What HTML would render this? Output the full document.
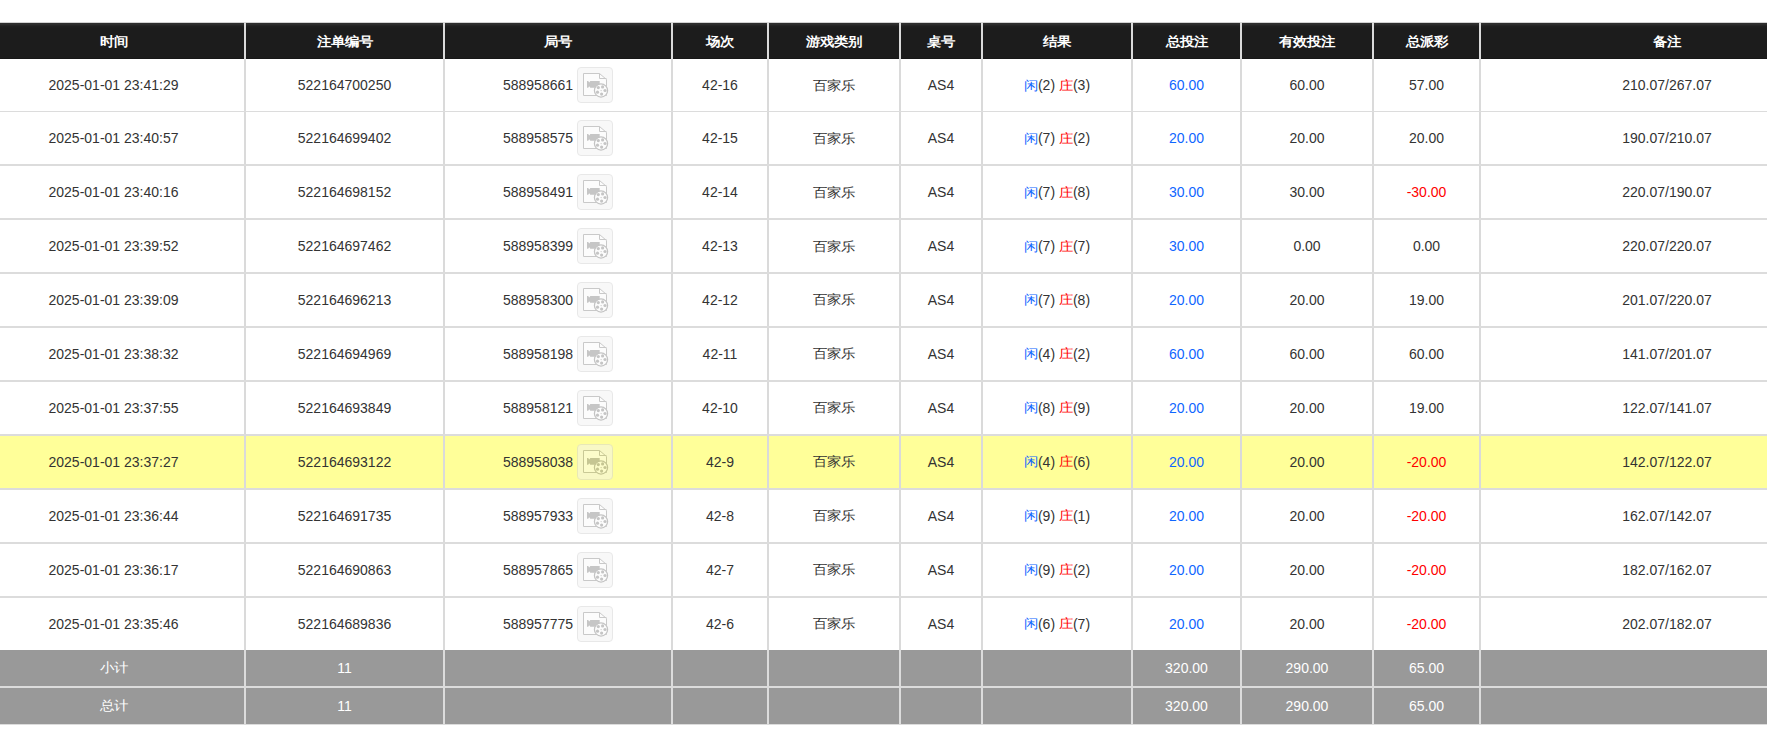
<!DOCTYPE html><html><head><meta charset="utf-8"><title>注单记录</title><style>
html,body{margin:0;padding:0;background:#fff;}
body{width:1767px;height:741px;overflow:hidden;position:relative;font-family:"Liberation Sans",sans-serif;font-size:14px;color:#333;}
.a{position:absolute;}
.c{position:absolute;display:flex;align-items:center;justify-content:center;white-space:nowrap;}
.hd{background:linear-gradient(to bottom,#d2d2d2 0,#d2d2d2 1px,#2d2d2d 1px,#2d2d2d 2px,#2c2c2c 2px,#2c2c2c 3px,#242424 3px,#242424 4px,#1f1f1f 4px,#1f1f1f 5px,#1c1c1c 6px,#1c1c1c 36px,#171717 36px);}
.hv{background:#dadada;}
.th{color:#fff;font-weight:bold;}
.bv{background:#dadada;}
.bh{background:#dcdcdc;}
.yl{background:#ffff99;}
.gr{background:#999;}
.gv{background:#dcdcdc;}
.gt{color:#fff;}
.b{color:#0f66ff;}
.z{display:inline-block;transform:translateY(0.9px) scaleY(0.9);}
.r{color:#ff0000;}
.ic{display:inline-block;width:36px;height:36px;margin-left:4px;box-sizing:border-box;border:1px solid #d3d3d3;border-radius:4px;background:#f3f3f3;position:relative;opacity:0.5;}
.ic svg{position:absolute;left:-1px;top:-1px;}

</style></head><body>
<div class="a hd" style="left:0;top:22px;width:1767px;height:37px"></div>
<div class="a yl" style="left:0;top:436px;width:1767px;height:52px"></div>
<div class="a gr" style="left:-17px;top:650px;width:261px;height:36px"></div>
<div class="a gr" style="left:246px;top:650px;width:197px;height:36px"></div>
<div class="a gr" style="left:445px;top:650px;width:226px;height:36px"></div>
<div class="a gr" style="left:673px;top:650px;width:94px;height:36px"></div>
<div class="a gr" style="left:769px;top:650px;width:130px;height:36px"></div>
<div class="a gr" style="left:901px;top:650px;width:80px;height:36px"></div>
<div class="a gr" style="left:983px;top:650px;width:148px;height:36px"></div>
<div class="a gr" style="left:1133px;top:650px;width:107px;height:36px"></div>
<div class="a gr" style="left:1242px;top:650px;width:130px;height:36px"></div>
<div class="a gr" style="left:1374px;top:650px;width:105px;height:36px"></div>
<div class="a gr" style="left:1481px;top:650px;width:372px;height:36px"></div>
<div class="a gv" style="left:244px;top:650px;width:2px;height:36px"></div>
<div class="a gv" style="left:443px;top:650px;width:2px;height:36px"></div>
<div class="a gv" style="left:671px;top:650px;width:2px;height:36px"></div>
<div class="a gv" style="left:767px;top:650px;width:2px;height:36px"></div>
<div class="a gv" style="left:899px;top:650px;width:2px;height:36px"></div>
<div class="a gv" style="left:981px;top:650px;width:2px;height:36px"></div>
<div class="a gv" style="left:1131px;top:650px;width:2px;height:36px"></div>
<div class="a gv" style="left:1240px;top:650px;width:2px;height:36px"></div>
<div class="a gv" style="left:1372px;top:650px;width:2px;height:36px"></div>
<div class="a gv" style="left:1479px;top:650px;width:2px;height:36px"></div>
<div class="a gr" style="left:-17px;top:688px;width:261px;height:36px"></div>
<div class="a gr" style="left:246px;top:688px;width:197px;height:36px"></div>
<div class="a gr" style="left:445px;top:688px;width:226px;height:36px"></div>
<div class="a gr" style="left:673px;top:688px;width:94px;height:36px"></div>
<div class="a gr" style="left:769px;top:688px;width:130px;height:36px"></div>
<div class="a gr" style="left:901px;top:688px;width:80px;height:36px"></div>
<div class="a gr" style="left:983px;top:688px;width:148px;height:36px"></div>
<div class="a gr" style="left:1133px;top:688px;width:107px;height:36px"></div>
<div class="a gr" style="left:1242px;top:688px;width:130px;height:36px"></div>
<div class="a gr" style="left:1374px;top:688px;width:105px;height:36px"></div>
<div class="a gr" style="left:1481px;top:688px;width:372px;height:36px"></div>
<div class="a gv" style="left:244px;top:688px;width:2px;height:36px"></div>
<div class="a gv" style="left:443px;top:688px;width:2px;height:36px"></div>
<div class="a gv" style="left:671px;top:688px;width:2px;height:36px"></div>
<div class="a gv" style="left:767px;top:688px;width:2px;height:36px"></div>
<div class="a gv" style="left:899px;top:688px;width:2px;height:36px"></div>
<div class="a gv" style="left:981px;top:688px;width:2px;height:36px"></div>
<div class="a gv" style="left:1131px;top:688px;width:2px;height:36px"></div>
<div class="a gv" style="left:1240px;top:688px;width:2px;height:36px"></div>
<div class="a gv" style="left:1372px;top:688px;width:2px;height:36px"></div>
<div class="a gv" style="left:1479px;top:688px;width:2px;height:36px"></div>
<div class="a gv" style="left:0;top:686px;width:1767px;height:2px"></div>
<div class="a" style="left:0;top:724px;width:1767px;height:1px;background:#dcdcdc"></div>
<div class="a bv" style="left:244px;top:59px;width:2px;height:591px"></div>
<div class="a bv" style="left:443px;top:59px;width:2px;height:591px"></div>
<div class="a bv" style="left:671px;top:59px;width:2px;height:591px"></div>
<div class="a bv" style="left:767px;top:59px;width:2px;height:591px"></div>
<div class="a bv" style="left:899px;top:59px;width:2px;height:591px"></div>
<div class="a bv" style="left:981px;top:59px;width:2px;height:591px"></div>
<div class="a bv" style="left:1131px;top:59px;width:2px;height:591px"></div>
<div class="a bv" style="left:1240px;top:59px;width:2px;height:591px"></div>
<div class="a bv" style="left:1372px;top:59px;width:2px;height:591px"></div>
<div class="a bv" style="left:1479px;top:59px;width:2px;height:591px"></div>
<div class="a bh" style="left:0;top:111px;width:1767px;height:1px"></div>
<div class="a bh" style="left:0;top:164px;width:1767px;height:2px"></div>
<div class="a bh" style="left:0;top:218px;width:1767px;height:2px"></div>
<div class="a bh" style="left:0;top:272px;width:1767px;height:2px"></div>
<div class="a bh" style="left:0;top:326px;width:1767px;height:2px"></div>
<div class="a bh" style="left:0;top:380px;width:1767px;height:2px"></div>
<div class="a bh" style="left:0;top:434px;width:1767px;height:2px"></div>
<div class="a bh" style="left:0;top:488px;width:1767px;height:2px"></div>
<div class="a bh" style="left:0;top:542px;width:1767px;height:2px"></div>
<div class="a bh" style="left:0;top:596px;width:1767px;height:2px"></div>
<div class="a hv" style="left:244px;top:22px;width:2px;height:37px"></div>
<div class="a hv" style="left:443px;top:22px;width:2px;height:37px"></div>
<div class="a hv" style="left:671px;top:22px;width:2px;height:37px"></div>
<div class="a hv" style="left:767px;top:22px;width:2px;height:37px"></div>
<div class="a hv" style="left:899px;top:22px;width:2px;height:37px"></div>
<div class="a hv" style="left:981px;top:22px;width:2px;height:37px"></div>
<div class="a hv" style="left:1131px;top:22px;width:2px;height:37px"></div>
<div class="a hv" style="left:1240px;top:22px;width:2px;height:37px"></div>
<div class="a hv" style="left:1372px;top:22px;width:2px;height:37px"></div>
<div class="a hv" style="left:1479px;top:22px;width:2px;height:37px"></div>
<div class="c th" style="left:-17px;top:23px;width:261px;height:36px"><span class="z">时间</span></div>
<div class="c th" style="left:246px;top:23px;width:197px;height:36px"><span class="z">注单编号</span></div>
<div class="c th" style="left:445px;top:23px;width:226px;height:36px"><span class="z">局号</span></div>
<div class="c th" style="left:673px;top:23px;width:94px;height:36px"><span class="z">场次</span></div>
<div class="c th" style="left:769px;top:23px;width:130px;height:36px"><span class="z">游戏类别</span></div>
<div class="c th" style="left:901px;top:23px;width:80px;height:36px"><span class="z">桌号</span></div>
<div class="c th" style="left:983px;top:23px;width:148px;height:36px"><span class="z">结果</span></div>
<div class="c th" style="left:1133px;top:23px;width:107px;height:36px"><span class="z">总投注</span></div>
<div class="c th" style="left:1242px;top:23px;width:130px;height:36px"><span class="z">有效投注</span></div>
<div class="c th" style="left:1374px;top:23px;width:105px;height:36px"><span class="z">总派彩</span></div>
<div class="c th" style="left:1481px;top:23px;width:372px;height:36px"><span class="z">备注</span></div>
<div class="c " style="left:-17px;top:59px;width:261px;height:52px">2025-01-01 23:41:29</div>
<div class="c " style="left:246px;top:59px;width:197px;height:52px">522164700250</div>
<div class="c " style="left:445px;top:59px;width:226px;height:52px">588958661<span class="ic"><svg width="36" height="36" viewBox="0 0 36 36"><path d="M6.5 6.5h16l7 6v16h-23z" fill="#fbfbfb" stroke="#959595"/><path d="M22.5 6.5v5h7" fill="none" stroke="#959595"/><path d="M10 14h1.2l1.05 1.4l1.05-1.4h9.4v6.7h-9.4l-1.05-1.4l-1.05 1.4h-1.2z" fill="#8f8f8f"/><circle cx="24" cy="23.5" r="6.6" fill="#fbfbfb" stroke="#8a8a8a" stroke-width="1.25"/><circle cx="21.3" cy="20.6" r="1.6" fill="#8d8d8d"/><circle cx="25.6" cy="19.9" r="1.6" fill="#8d8d8d"/><circle cx="28" cy="23.5" r="1.6" fill="#8d8d8d"/><circle cx="24.6" cy="27.1" r="1.6" fill="#8d8d8d"/><circle cx="20.5" cy="25.2" r="1.6" fill="#8d8d8d"/><circle cx="24.1" cy="23.6" r="0.6" fill="#8d8d8d"/></svg></span></div>
<div class="c " style="left:673px;top:59px;width:94px;height:52px">42-16</div>
<div class="c " style="left:769px;top:59px;width:130px;height:52px"><span class="z">百家乐</span></div>
<div class="c " style="left:901px;top:59px;width:80px;height:52px">AS4</div>
<div class="c " style="left:983px;top:59px;width:148px;height:52px"><span class="b"><span class="z">闲</span></span>(2)&nbsp;<span class="r"><span class="z">庄</span></span>(3)</div>
<div class="c " style="left:1133px;top:59px;width:107px;height:52px"><span class="b">60.00</span></div>
<div class="c " style="left:1242px;top:59px;width:130px;height:52px">60.00</div>
<div class="c " style="left:1374px;top:59px;width:105px;height:52px">57.00</div>
<div class="c " style="left:1481px;top:59px;width:372px;height:52px">210.07/267.07</div>
<div class="c " style="left:-17px;top:112px;width:261px;height:52px">2025-01-01 23:40:57</div>
<div class="c " style="left:246px;top:112px;width:197px;height:52px">522164699402</div>
<div class="c " style="left:445px;top:112px;width:226px;height:52px">588958575<span class="ic"><svg width="36" height="36" viewBox="0 0 36 36"><path d="M6.5 6.5h16l7 6v16h-23z" fill="#fbfbfb" stroke="#959595"/><path d="M22.5 6.5v5h7" fill="none" stroke="#959595"/><path d="M10 14h1.2l1.05 1.4l1.05-1.4h9.4v6.7h-9.4l-1.05-1.4l-1.05 1.4h-1.2z" fill="#8f8f8f"/><circle cx="24" cy="23.5" r="6.6" fill="#fbfbfb" stroke="#8a8a8a" stroke-width="1.25"/><circle cx="21.3" cy="20.6" r="1.6" fill="#8d8d8d"/><circle cx="25.6" cy="19.9" r="1.6" fill="#8d8d8d"/><circle cx="28" cy="23.5" r="1.6" fill="#8d8d8d"/><circle cx="24.6" cy="27.1" r="1.6" fill="#8d8d8d"/><circle cx="20.5" cy="25.2" r="1.6" fill="#8d8d8d"/><circle cx="24.1" cy="23.6" r="0.6" fill="#8d8d8d"/></svg></span></div>
<div class="c " style="left:673px;top:112px;width:94px;height:52px">42-15</div>
<div class="c " style="left:769px;top:112px;width:130px;height:52px"><span class="z">百家乐</span></div>
<div class="c " style="left:901px;top:112px;width:80px;height:52px">AS4</div>
<div class="c " style="left:983px;top:112px;width:148px;height:52px"><span class="b"><span class="z">闲</span></span>(7)&nbsp;<span class="r"><span class="z">庄</span></span>(2)</div>
<div class="c " style="left:1133px;top:112px;width:107px;height:52px"><span class="b">20.00</span></div>
<div class="c " style="left:1242px;top:112px;width:130px;height:52px">20.00</div>
<div class="c " style="left:1374px;top:112px;width:105px;height:52px">20.00</div>
<div class="c " style="left:1481px;top:112px;width:372px;height:52px">190.07/210.07</div>
<div class="c " style="left:-17px;top:166px;width:261px;height:52px">2025-01-01 23:40:16</div>
<div class="c " style="left:246px;top:166px;width:197px;height:52px">522164698152</div>
<div class="c " style="left:445px;top:166px;width:226px;height:52px">588958491<span class="ic"><svg width="36" height="36" viewBox="0 0 36 36"><path d="M6.5 6.5h16l7 6v16h-23z" fill="#fbfbfb" stroke="#959595"/><path d="M22.5 6.5v5h7" fill="none" stroke="#959595"/><path d="M10 14h1.2l1.05 1.4l1.05-1.4h9.4v6.7h-9.4l-1.05-1.4l-1.05 1.4h-1.2z" fill="#8f8f8f"/><circle cx="24" cy="23.5" r="6.6" fill="#fbfbfb" stroke="#8a8a8a" stroke-width="1.25"/><circle cx="21.3" cy="20.6" r="1.6" fill="#8d8d8d"/><circle cx="25.6" cy="19.9" r="1.6" fill="#8d8d8d"/><circle cx="28" cy="23.5" r="1.6" fill="#8d8d8d"/><circle cx="24.6" cy="27.1" r="1.6" fill="#8d8d8d"/><circle cx="20.5" cy="25.2" r="1.6" fill="#8d8d8d"/><circle cx="24.1" cy="23.6" r="0.6" fill="#8d8d8d"/></svg></span></div>
<div class="c " style="left:673px;top:166px;width:94px;height:52px">42-14</div>
<div class="c " style="left:769px;top:166px;width:130px;height:52px"><span class="z">百家乐</span></div>
<div class="c " style="left:901px;top:166px;width:80px;height:52px">AS4</div>
<div class="c " style="left:983px;top:166px;width:148px;height:52px"><span class="b"><span class="z">闲</span></span>(7)&nbsp;<span class="r"><span class="z">庄</span></span>(8)</div>
<div class="c " style="left:1133px;top:166px;width:107px;height:52px"><span class="b">30.00</span></div>
<div class="c " style="left:1242px;top:166px;width:130px;height:52px">30.00</div>
<div class="c " style="left:1374px;top:166px;width:105px;height:52px"><span class="r">-30.00</span></div>
<div class="c " style="left:1481px;top:166px;width:372px;height:52px">220.07/190.07</div>
<div class="c " style="left:-17px;top:220px;width:261px;height:52px">2025-01-01 23:39:52</div>
<div class="c " style="left:246px;top:220px;width:197px;height:52px">522164697462</div>
<div class="c " style="left:445px;top:220px;width:226px;height:52px">588958399<span class="ic"><svg width="36" height="36" viewBox="0 0 36 36"><path d="M6.5 6.5h16l7 6v16h-23z" fill="#fbfbfb" stroke="#959595"/><path d="M22.5 6.5v5h7" fill="none" stroke="#959595"/><path d="M10 14h1.2l1.05 1.4l1.05-1.4h9.4v6.7h-9.4l-1.05-1.4l-1.05 1.4h-1.2z" fill="#8f8f8f"/><circle cx="24" cy="23.5" r="6.6" fill="#fbfbfb" stroke="#8a8a8a" stroke-width="1.25"/><circle cx="21.3" cy="20.6" r="1.6" fill="#8d8d8d"/><circle cx="25.6" cy="19.9" r="1.6" fill="#8d8d8d"/><circle cx="28" cy="23.5" r="1.6" fill="#8d8d8d"/><circle cx="24.6" cy="27.1" r="1.6" fill="#8d8d8d"/><circle cx="20.5" cy="25.2" r="1.6" fill="#8d8d8d"/><circle cx="24.1" cy="23.6" r="0.6" fill="#8d8d8d"/></svg></span></div>
<div class="c " style="left:673px;top:220px;width:94px;height:52px">42-13</div>
<div class="c " style="left:769px;top:220px;width:130px;height:52px"><span class="z">百家乐</span></div>
<div class="c " style="left:901px;top:220px;width:80px;height:52px">AS4</div>
<div class="c " style="left:983px;top:220px;width:148px;height:52px"><span class="b"><span class="z">闲</span></span>(7)&nbsp;<span class="r"><span class="z">庄</span></span>(7)</div>
<div class="c " style="left:1133px;top:220px;width:107px;height:52px"><span class="b">30.00</span></div>
<div class="c " style="left:1242px;top:220px;width:130px;height:52px">0.00</div>
<div class="c " style="left:1374px;top:220px;width:105px;height:52px">0.00</div>
<div class="c " style="left:1481px;top:220px;width:372px;height:52px">220.07/220.07</div>
<div class="c " style="left:-17px;top:274px;width:261px;height:52px">2025-01-01 23:39:09</div>
<div class="c " style="left:246px;top:274px;width:197px;height:52px">522164696213</div>
<div class="c " style="left:445px;top:274px;width:226px;height:52px">588958300<span class="ic"><svg width="36" height="36" viewBox="0 0 36 36"><path d="M6.5 6.5h16l7 6v16h-23z" fill="#fbfbfb" stroke="#959595"/><path d="M22.5 6.5v5h7" fill="none" stroke="#959595"/><path d="M10 14h1.2l1.05 1.4l1.05-1.4h9.4v6.7h-9.4l-1.05-1.4l-1.05 1.4h-1.2z" fill="#8f8f8f"/><circle cx="24" cy="23.5" r="6.6" fill="#fbfbfb" stroke="#8a8a8a" stroke-width="1.25"/><circle cx="21.3" cy="20.6" r="1.6" fill="#8d8d8d"/><circle cx="25.6" cy="19.9" r="1.6" fill="#8d8d8d"/><circle cx="28" cy="23.5" r="1.6" fill="#8d8d8d"/><circle cx="24.6" cy="27.1" r="1.6" fill="#8d8d8d"/><circle cx="20.5" cy="25.2" r="1.6" fill="#8d8d8d"/><circle cx="24.1" cy="23.6" r="0.6" fill="#8d8d8d"/></svg></span></div>
<div class="c " style="left:673px;top:274px;width:94px;height:52px">42-12</div>
<div class="c " style="left:769px;top:274px;width:130px;height:52px"><span class="z">百家乐</span></div>
<div class="c " style="left:901px;top:274px;width:80px;height:52px">AS4</div>
<div class="c " style="left:983px;top:274px;width:148px;height:52px"><span class="b"><span class="z">闲</span></span>(7)&nbsp;<span class="r"><span class="z">庄</span></span>(8)</div>
<div class="c " style="left:1133px;top:274px;width:107px;height:52px"><span class="b">20.00</span></div>
<div class="c " style="left:1242px;top:274px;width:130px;height:52px">20.00</div>
<div class="c " style="left:1374px;top:274px;width:105px;height:52px">19.00</div>
<div class="c " style="left:1481px;top:274px;width:372px;height:52px">201.07/220.07</div>
<div class="c " style="left:-17px;top:328px;width:261px;height:52px">2025-01-01 23:38:32</div>
<div class="c " style="left:246px;top:328px;width:197px;height:52px">522164694969</div>
<div class="c " style="left:445px;top:328px;width:226px;height:52px">588958198<span class="ic"><svg width="36" height="36" viewBox="0 0 36 36"><path d="M6.5 6.5h16l7 6v16h-23z" fill="#fbfbfb" stroke="#959595"/><path d="M22.5 6.5v5h7" fill="none" stroke="#959595"/><path d="M10 14h1.2l1.05 1.4l1.05-1.4h9.4v6.7h-9.4l-1.05-1.4l-1.05 1.4h-1.2z" fill="#8f8f8f"/><circle cx="24" cy="23.5" r="6.6" fill="#fbfbfb" stroke="#8a8a8a" stroke-width="1.25"/><circle cx="21.3" cy="20.6" r="1.6" fill="#8d8d8d"/><circle cx="25.6" cy="19.9" r="1.6" fill="#8d8d8d"/><circle cx="28" cy="23.5" r="1.6" fill="#8d8d8d"/><circle cx="24.6" cy="27.1" r="1.6" fill="#8d8d8d"/><circle cx="20.5" cy="25.2" r="1.6" fill="#8d8d8d"/><circle cx="24.1" cy="23.6" r="0.6" fill="#8d8d8d"/></svg></span></div>
<div class="c " style="left:673px;top:328px;width:94px;height:52px">42-11</div>
<div class="c " style="left:769px;top:328px;width:130px;height:52px"><span class="z">百家乐</span></div>
<div class="c " style="left:901px;top:328px;width:80px;height:52px">AS4</div>
<div class="c " style="left:983px;top:328px;width:148px;height:52px"><span class="b"><span class="z">闲</span></span>(4)&nbsp;<span class="r"><span class="z">庄</span></span>(2)</div>
<div class="c " style="left:1133px;top:328px;width:107px;height:52px"><span class="b">60.00</span></div>
<div class="c " style="left:1242px;top:328px;width:130px;height:52px">60.00</div>
<div class="c " style="left:1374px;top:328px;width:105px;height:52px">60.00</div>
<div class="c " style="left:1481px;top:328px;width:372px;height:52px">141.07/201.07</div>
<div class="c " style="left:-17px;top:382px;width:261px;height:52px">2025-01-01 23:37:55</div>
<div class="c " style="left:246px;top:382px;width:197px;height:52px">522164693849</div>
<div class="c " style="left:445px;top:382px;width:226px;height:52px">588958121<span class="ic"><svg width="36" height="36" viewBox="0 0 36 36"><path d="M6.5 6.5h16l7 6v16h-23z" fill="#fbfbfb" stroke="#959595"/><path d="M22.5 6.5v5h7" fill="none" stroke="#959595"/><path d="M10 14h1.2l1.05 1.4l1.05-1.4h9.4v6.7h-9.4l-1.05-1.4l-1.05 1.4h-1.2z" fill="#8f8f8f"/><circle cx="24" cy="23.5" r="6.6" fill="#fbfbfb" stroke="#8a8a8a" stroke-width="1.25"/><circle cx="21.3" cy="20.6" r="1.6" fill="#8d8d8d"/><circle cx="25.6" cy="19.9" r="1.6" fill="#8d8d8d"/><circle cx="28" cy="23.5" r="1.6" fill="#8d8d8d"/><circle cx="24.6" cy="27.1" r="1.6" fill="#8d8d8d"/><circle cx="20.5" cy="25.2" r="1.6" fill="#8d8d8d"/><circle cx="24.1" cy="23.6" r="0.6" fill="#8d8d8d"/></svg></span></div>
<div class="c " style="left:673px;top:382px;width:94px;height:52px">42-10</div>
<div class="c " style="left:769px;top:382px;width:130px;height:52px"><span class="z">百家乐</span></div>
<div class="c " style="left:901px;top:382px;width:80px;height:52px">AS4</div>
<div class="c " style="left:983px;top:382px;width:148px;height:52px"><span class="b"><span class="z">闲</span></span>(8)&nbsp;<span class="r"><span class="z">庄</span></span>(9)</div>
<div class="c " style="left:1133px;top:382px;width:107px;height:52px"><span class="b">20.00</span></div>
<div class="c " style="left:1242px;top:382px;width:130px;height:52px">20.00</div>
<div class="c " style="left:1374px;top:382px;width:105px;height:52px">19.00</div>
<div class="c " style="left:1481px;top:382px;width:372px;height:52px">122.07/141.07</div>
<div class="c " style="left:-17px;top:436px;width:261px;height:52px">2025-01-01 23:37:27</div>
<div class="c " style="left:246px;top:436px;width:197px;height:52px">522164693122</div>
<div class="c " style="left:445px;top:436px;width:226px;height:52px">588958038<span class="ic"><svg width="36" height="36" viewBox="0 0 36 36"><path d="M6.5 6.5h16l7 6v16h-23z" fill="#fbfbfb" stroke="#959595"/><path d="M22.5 6.5v5h7" fill="none" stroke="#959595"/><path d="M10 14h1.2l1.05 1.4l1.05-1.4h9.4v6.7h-9.4l-1.05-1.4l-1.05 1.4h-1.2z" fill="#8f8f8f"/><circle cx="24" cy="23.5" r="6.6" fill="#fbfbfb" stroke="#8a8a8a" stroke-width="1.25"/><circle cx="21.3" cy="20.6" r="1.6" fill="#8d8d8d"/><circle cx="25.6" cy="19.9" r="1.6" fill="#8d8d8d"/><circle cx="28" cy="23.5" r="1.6" fill="#8d8d8d"/><circle cx="24.6" cy="27.1" r="1.6" fill="#8d8d8d"/><circle cx="20.5" cy="25.2" r="1.6" fill="#8d8d8d"/><circle cx="24.1" cy="23.6" r="0.6" fill="#8d8d8d"/></svg></span></div>
<div class="c " style="left:673px;top:436px;width:94px;height:52px">42-9</div>
<div class="c " style="left:769px;top:436px;width:130px;height:52px"><span class="z">百家乐</span></div>
<div class="c " style="left:901px;top:436px;width:80px;height:52px">AS4</div>
<div class="c " style="left:983px;top:436px;width:148px;height:52px"><span class="b"><span class="z">闲</span></span>(4)&nbsp;<span class="r"><span class="z">庄</span></span>(6)</div>
<div class="c " style="left:1133px;top:436px;width:107px;height:52px"><span class="b">20.00</span></div>
<div class="c " style="left:1242px;top:436px;width:130px;height:52px">20.00</div>
<div class="c " style="left:1374px;top:436px;width:105px;height:52px"><span class="r">-20.00</span></div>
<div class="c " style="left:1481px;top:436px;width:372px;height:52px">142.07/122.07</div>
<div class="c " style="left:-17px;top:490px;width:261px;height:52px">2025-01-01 23:36:44</div>
<div class="c " style="left:246px;top:490px;width:197px;height:52px">522164691735</div>
<div class="c " style="left:445px;top:490px;width:226px;height:52px">588957933<span class="ic"><svg width="36" height="36" viewBox="0 0 36 36"><path d="M6.5 6.5h16l7 6v16h-23z" fill="#fbfbfb" stroke="#959595"/><path d="M22.5 6.5v5h7" fill="none" stroke="#959595"/><path d="M10 14h1.2l1.05 1.4l1.05-1.4h9.4v6.7h-9.4l-1.05-1.4l-1.05 1.4h-1.2z" fill="#8f8f8f"/><circle cx="24" cy="23.5" r="6.6" fill="#fbfbfb" stroke="#8a8a8a" stroke-width="1.25"/><circle cx="21.3" cy="20.6" r="1.6" fill="#8d8d8d"/><circle cx="25.6" cy="19.9" r="1.6" fill="#8d8d8d"/><circle cx="28" cy="23.5" r="1.6" fill="#8d8d8d"/><circle cx="24.6" cy="27.1" r="1.6" fill="#8d8d8d"/><circle cx="20.5" cy="25.2" r="1.6" fill="#8d8d8d"/><circle cx="24.1" cy="23.6" r="0.6" fill="#8d8d8d"/></svg></span></div>
<div class="c " style="left:673px;top:490px;width:94px;height:52px">42-8</div>
<div class="c " style="left:769px;top:490px;width:130px;height:52px"><span class="z">百家乐</span></div>
<div class="c " style="left:901px;top:490px;width:80px;height:52px">AS4</div>
<div class="c " style="left:983px;top:490px;width:148px;height:52px"><span class="b"><span class="z">闲</span></span>(9)&nbsp;<span class="r"><span class="z">庄</span></span>(1)</div>
<div class="c " style="left:1133px;top:490px;width:107px;height:52px"><span class="b">20.00</span></div>
<div class="c " style="left:1242px;top:490px;width:130px;height:52px">20.00</div>
<div class="c " style="left:1374px;top:490px;width:105px;height:52px"><span class="r">-20.00</span></div>
<div class="c " style="left:1481px;top:490px;width:372px;height:52px">162.07/142.07</div>
<div class="c " style="left:-17px;top:544px;width:261px;height:52px">2025-01-01 23:36:17</div>
<div class="c " style="left:246px;top:544px;width:197px;height:52px">522164690863</div>
<div class="c " style="left:445px;top:544px;width:226px;height:52px">588957865<span class="ic"><svg width="36" height="36" viewBox="0 0 36 36"><path d="M6.5 6.5h16l7 6v16h-23z" fill="#fbfbfb" stroke="#959595"/><path d="M22.5 6.5v5h7" fill="none" stroke="#959595"/><path d="M10 14h1.2l1.05 1.4l1.05-1.4h9.4v6.7h-9.4l-1.05-1.4l-1.05 1.4h-1.2z" fill="#8f8f8f"/><circle cx="24" cy="23.5" r="6.6" fill="#fbfbfb" stroke="#8a8a8a" stroke-width="1.25"/><circle cx="21.3" cy="20.6" r="1.6" fill="#8d8d8d"/><circle cx="25.6" cy="19.9" r="1.6" fill="#8d8d8d"/><circle cx="28" cy="23.5" r="1.6" fill="#8d8d8d"/><circle cx="24.6" cy="27.1" r="1.6" fill="#8d8d8d"/><circle cx="20.5" cy="25.2" r="1.6" fill="#8d8d8d"/><circle cx="24.1" cy="23.6" r="0.6" fill="#8d8d8d"/></svg></span></div>
<div class="c " style="left:673px;top:544px;width:94px;height:52px">42-7</div>
<div class="c " style="left:769px;top:544px;width:130px;height:52px"><span class="z">百家乐</span></div>
<div class="c " style="left:901px;top:544px;width:80px;height:52px">AS4</div>
<div class="c " style="left:983px;top:544px;width:148px;height:52px"><span class="b"><span class="z">闲</span></span>(9)&nbsp;<span class="r"><span class="z">庄</span></span>(2)</div>
<div class="c " style="left:1133px;top:544px;width:107px;height:52px"><span class="b">20.00</span></div>
<div class="c " style="left:1242px;top:544px;width:130px;height:52px">20.00</div>
<div class="c " style="left:1374px;top:544px;width:105px;height:52px"><span class="r">-20.00</span></div>
<div class="c " style="left:1481px;top:544px;width:372px;height:52px">182.07/162.07</div>
<div class="c " style="left:-17px;top:598px;width:261px;height:52px">2025-01-01 23:35:46</div>
<div class="c " style="left:246px;top:598px;width:197px;height:52px">522164689836</div>
<div class="c " style="left:445px;top:598px;width:226px;height:52px">588957775<span class="ic"><svg width="36" height="36" viewBox="0 0 36 36"><path d="M6.5 6.5h16l7 6v16h-23z" fill="#fbfbfb" stroke="#959595"/><path d="M22.5 6.5v5h7" fill="none" stroke="#959595"/><path d="M10 14h1.2l1.05 1.4l1.05-1.4h9.4v6.7h-9.4l-1.05-1.4l-1.05 1.4h-1.2z" fill="#8f8f8f"/><circle cx="24" cy="23.5" r="6.6" fill="#fbfbfb" stroke="#8a8a8a" stroke-width="1.25"/><circle cx="21.3" cy="20.6" r="1.6" fill="#8d8d8d"/><circle cx="25.6" cy="19.9" r="1.6" fill="#8d8d8d"/><circle cx="28" cy="23.5" r="1.6" fill="#8d8d8d"/><circle cx="24.6" cy="27.1" r="1.6" fill="#8d8d8d"/><circle cx="20.5" cy="25.2" r="1.6" fill="#8d8d8d"/><circle cx="24.1" cy="23.6" r="0.6" fill="#8d8d8d"/></svg></span></div>
<div class="c " style="left:673px;top:598px;width:94px;height:52px">42-6</div>
<div class="c " style="left:769px;top:598px;width:130px;height:52px"><span class="z">百家乐</span></div>
<div class="c " style="left:901px;top:598px;width:80px;height:52px">AS4</div>
<div class="c " style="left:983px;top:598px;width:148px;height:52px"><span class="b"><span class="z">闲</span></span>(6)&nbsp;<span class="r"><span class="z">庄</span></span>(7)</div>
<div class="c " style="left:1133px;top:598px;width:107px;height:52px"><span class="b">20.00</span></div>
<div class="c " style="left:1242px;top:598px;width:130px;height:52px">20.00</div>
<div class="c " style="left:1374px;top:598px;width:105px;height:52px"><span class="r">-20.00</span></div>
<div class="c " style="left:1481px;top:598px;width:372px;height:52px">202.07/182.07</div>
<div class="c gt" style="left:-17px;top:650px;width:261px;height:36px"><span class="z">小计</span></div>
<div class="c gt" style="left:246px;top:650px;width:197px;height:36px">11</div>
<div class="c gt" style="left:1133px;top:650px;width:107px;height:36px">320.00</div>
<div class="c gt" style="left:1242px;top:650px;width:130px;height:36px">290.00</div>
<div class="c gt" style="left:1374px;top:650px;width:105px;height:36px">65.00</div>
<div class="c gt" style="left:-17px;top:688px;width:261px;height:36px"><span class="z">总计</span></div>
<div class="c gt" style="left:246px;top:688px;width:197px;height:36px">11</div>
<div class="c gt" style="left:1133px;top:688px;width:107px;height:36px">320.00</div>
<div class="c gt" style="left:1242px;top:688px;width:130px;height:36px">290.00</div>
<div class="c gt" style="left:1374px;top:688px;width:105px;height:36px">65.00</div>
</body></html>
